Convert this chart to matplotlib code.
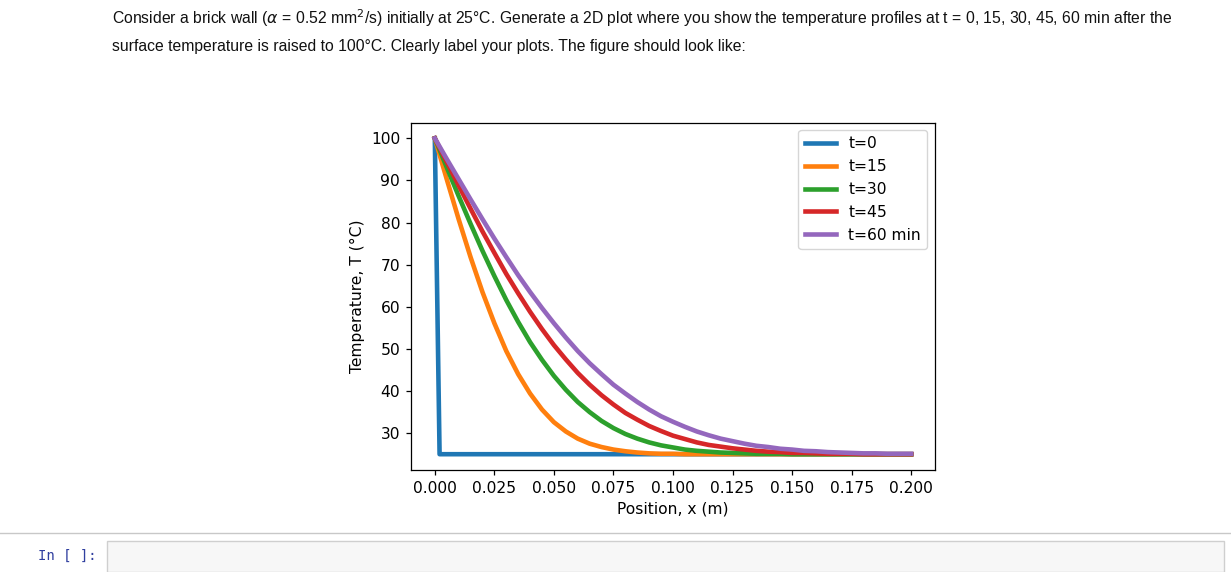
import matplotlib.pyplot as plt
from matplotlib.patches import Rectangle
from matplotlib.lines import Line2D

W, H = 1231, 572

# profile positions (m) and temperatures (degC)
x_pos = [0.000, 0.005, 0.010, 0.015, 0.020, 0.025, 0.030, 0.035, 0.040, 0.045,
         0.050, 0.055, 0.060, 0.065, 0.070, 0.075, 0.080, 0.085, 0.090, 0.095,
         0.100, 0.105, 0.110, 0.115, 0.120, 0.125, 0.130, 0.135, 0.140, 0.145,
         0.150, 0.155, 0.160, 0.165, 0.170, 0.175, 0.180, 0.185, 0.190, 0.195,
         0.200]

x_t0 = [0.000, 0.002, 0.200]
T_t0 = [100.0, 25.0, 25.0]

T_t15 = [100.0, 90.3, 80.8, 71.8, 63.5, 56.1, 49.5, 44.0, 39.4, 35.6,
         32.6, 30.4, 28.7, 27.5, 26.7, 26.1, 25.7, 25.4, 25.2, 25.1,
         25.1, 25.0, 25.0, 25.0, 25.0, 25.0, 25.0, 25.0, 25.0, 25.0,
         25.0, 25.0, 25.0, 25.0, 25.0, 25.0, 25.0, 25.0, 25.0, 25.0,
         25.0]
T_t30 = [100.0, 93.1, 86.3, 79.7, 73.3, 67.3, 61.6, 56.4, 51.6, 47.4,
         43.6, 40.3, 37.4, 35.0, 32.9, 31.2, 29.8, 28.7, 27.8, 27.1,
         26.6, 26.1, 25.8, 25.6, 25.4, 25.3, 25.2, 25.1, 25.1, 25.1,
         25.0, 25.0, 25.0, 25.0, 25.0, 25.0, 25.0, 25.0, 25.0, 25.0,
         25.0]
T_t45 = [100.0, 94.4, 88.8, 83.3, 77.9, 72.8, 67.8, 63.2, 58.8, 54.7,
         50.9, 47.5, 44.3, 41.5, 39.0, 36.8, 34.8, 33.2, 31.7, 30.5,
         29.4, 28.6, 27.8, 27.2, 26.8, 26.4, 26.1, 25.8, 25.6, 25.5,
         25.3, 25.3, 25.2, 25.1, 25.1, 25.1, 25.0, 25.0, 25.0, 25.0,
         25.0]
T_t60 = [100.0, 95.1, 90.3, 85.5, 80.8, 76.2, 71.8, 67.5, 63.5, 59.7,
         56.1, 52.7, 49.5, 46.6, 44.0, 41.5, 39.4, 37.4, 35.6, 34.0,
         32.7, 31.5, 30.4, 29.5, 28.7, 28.1, 27.5, 27.0, 26.7, 26.3,
         26.1, 25.8, 25.7, 25.5, 25.4, 25.3, 25.2, 25.2, 25.1, 25.1,
         25.1]

labels = ['t=0', 't=15', 't=30', 't=45', 't=60 min']

fs = 11.2   # plot text size
lw = 3.3

fig = plt.figure(figsize=(W / 100, H / 100), dpi=100)

# notebook markdown text above the figure
txt = dict(family='Liberation Sans', fontsize=11.3, color='#111111', va='center')
fig.text(112 / W, 1 - 18 / H,
         r'Consider a brick wall ($\alpha$ = 0.52 mm$^2$/s) initially at 25°C. Generate a 2D plot '
         'where you show the temperature profiles at t = 0, 15, 30, 45, 60 min after the', **txt)
fig.text(112 / W, 1 - 47 / H,
         'surface temperature is raised to 100°C. Clearly label your plots. The figure should look like:',
         **txt)

ax = fig.add_axes([411 / W, 1 - 470 / H, 524 / W, 347.5 / H])
ax.plot(x_t0, T_t0, lw=lw, label=labels[0])
ax.plot(x_pos, T_t15, lw=lw, label=labels[1])
ax.plot(x_pos, T_t30, lw=lw, label=labels[2])
ax.plot(x_pos, T_t45, lw=lw, label=labels[3])
ax.plot(x_pos, T_t60, lw=lw, label=labels[4])
ax.set_xticks([0, 0.025, 0.05, 0.075, 0.1, 0.125, 0.15, 0.175, 0.2])
ax.set_yticks([30, 40, 50, 60, 70, 80, 90, 100])
ax.tick_params(labelsize=fs, length=3.9, width=0.9, pad=3.9)
for s in ax.spines.values():
    s.set_linewidth(0.9)
ax.set_xlabel('Position, x (m)', fontsize=fs, labelpad=4)
ax.set_ylabel('Temperature, T (°C)', fontsize=fs, labelpad=4)
ax.legend(fontsize=fs, loc='upper right')

# empty notebook cell underneath
fig.add_artist(Line2D([0, 1], [1 - 533 / H, 1 - 533 / H], color='#c8c8c8', lw=1))
fig.add_artist(Rectangle((107 / W, 0), 1117 / W, 1 - 541 / H,
                         facecolor='#f7f7f7', edgecolor='#cfcfcf', lw=1))
fig.text(97 / W, 1 - 556 / H, 'In [ ]:', family='DejaVu Sans Mono', fontsize=10,
         color='#303F9F', ha='right', va='center')

fig.savefig('out.png', dpi=100)
